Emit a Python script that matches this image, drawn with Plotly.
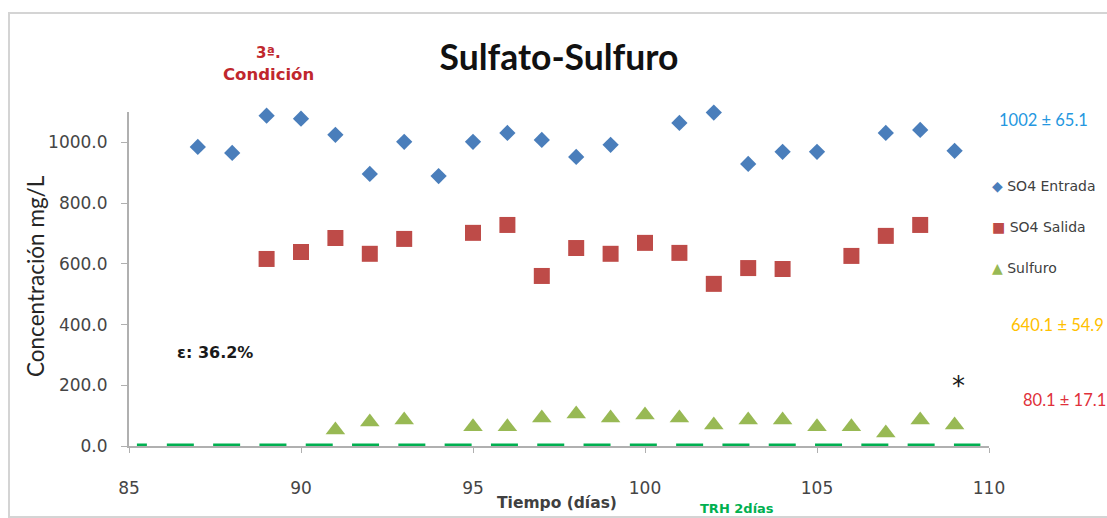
import plotly.graph_objects as go

# ---- data ----
dias_entrada = [87, 88, 89, 90, 91, 92, 93, 94, 95, 96, 97, 98, 99, 101, 102, 103, 104, 105, 107, 108, 109]
so4_entrada = [985, 965, 1088, 1078, 1025, 896, 1002, 889, 1002, 1031, 1008, 952, 992, 1064, 1098, 929, 969, 969, 1031, 1041, 972]

dias_salida = [89, 90, 91, 92, 93, 95, 96, 97, 98, 99, 100, 101, 102, 103, 104, 106, 107, 108]
so4_salida = [616, 639, 685, 633, 682, 702, 728, 560, 652, 633, 669, 636, 534, 586, 583, 626, 692, 728]

dias_sulfuro = [91, 92, 93, 95, 96, 97, 98, 99, 100, 101, 102, 103, 104, 105, 106, 107, 108, 109]
sulfuro = [53, 79, 86, 63, 63, 92, 105, 92, 102, 92, 69, 86, 86, 63, 63, 43, 86, 69]

trh_x_a = [85.23, 85.52]
trh_x_b = [86.1, 109.75]
trh_y = [0, 0]

x_ticks = [85, 90, 95, 100, 105, 110]
y_ticks = [0, 200, 400, 600, 800, 1000]

W, H = 1107, 518
L, R, T, B = 129, 118, 112, 72
pw, ph = W - L - R, H - T - B

def px(x):
    return (x - L) / pw

def py(y):
    return (H - B - y) / ph

blue = "#4a7ebb"
red = "#be4b48"
green = "#98b954"
axis_gray = "#b0b0b0"

fig = go.Figure()
fig.add_trace(go.Scatter(x=trh_x_a, y=trh_y, mode="lines", cliponaxis=False,
                         line=dict(color="#00b050", width=5), showlegend=False, hoverinfo="skip"))
fig.add_trace(go.Scatter(x=trh_x_b, y=trh_y, mode="lines", cliponaxis=False,
                         line=dict(color="#00b050", width=5, dash="27px,19.3px"), showlegend=False, hoverinfo="skip"))
fig.add_trace(go.Scatter(x=dias_entrada, y=so4_entrada, mode="markers", name="SO4 Entrada",
                         marker=dict(symbol="diamond", size=12.5, color=blue), showlegend=False, cliponaxis=False))
fig.add_trace(go.Scatter(x=dias_salida, y=so4_salida, mode="markers", name="SO4 Salida",
                         marker=dict(symbol="square", size=16, color=red), showlegend=False, cliponaxis=False))
fig.add_trace(go.Scatter(x=dias_sulfuro, y=sulfuro, mode="markers", name="Sulfuro",
                         marker=dict(symbol="triangle-up", size=17, color=green), showlegend=False, cliponaxis=False))

ann = []
def A(text, x, y, size, color, family="DejaVu Sans", xanchor="center", yanchor="middle", **kw):
    ann.append(dict(text=text, x=px(x), y=py(y), xref="paper", yref="paper", showarrow=False,
                    xanchor=xanchor, yanchor=yanchor, font=dict(size=size, color=color, family=family), **kw))

A("<b>3ª.</b>", 268, 53, 15, "#c0272d")
A("<b>Condición</b>", 268, 74, 16.5, "#c0272d")
A("<b>ε: 36.2%</b>", 215, 352, 16, "#1a1a1a")
A("*", 958, 386, 26, "#1a1a1a")
A("1002 ± 65.1", 997, 120, 16.5, "#2597e0", family="Lato", xanchor="left")
A("640.1 ± 54.9", 1009, 325, 16.5, "#ffc000", family="Lato", xanchor="left")
A("80.1 ± 17.1", 1021, 400, 16.5, "#e0303a", family="Lato", xanchor="left")
A("<b>Tiempo (días)</b>", 557, 503, 15.5, "#404040")
A("<b>TRH 2días</b>", 698, 518, 13, "#00b050", xanchor="left", yanchor="bottom")
A("Concentración mg/L", 35, 276, 22.5, "#262626", family="Lato", textangle=-90)
# legend
A(f"<span style='color:{blue}'>◆</span> SO4 Entrada", 990, 186, 14, "#404040", xanchor="left")
A(f"<span style='color:{red}'>■</span> SO4 Salida", 990, 227, 14, "#404040", xanchor="left")
A(f"<span style='color:{green}'>▲</span> Sulfuro", 990, 268, 14, "#404040", xanchor="left")

fig.update_layout(
    width=W, height=H,
    margin=dict(l=L, r=R, t=T, b=B, pad=0),
    paper_bgcolor="white", plot_bgcolor="white",
    title=dict(text="<b>Sulfato-Sulfuro</b>", x=0.5, xref="paper", xanchor="center",
               y=1 - 58 / H, yref="container", yanchor="middle",
               font=dict(family="Lato", size=35.5, color="#111111")),
    annotations=ann,
    shapes=[dict(type="rect", xref="paper", yref="paper",
                 x0=px(9), x1=px(1115), y0=py(517), y1=py(13),
                 line=dict(color="#d4d4d4", width=2), fillcolor="rgba(0,0,0,0)", layer="below")],
    xaxis=dict(range=[85, 110], tickvals=x_ticks, ticktext=[str(v) for v in x_ticks],
               showgrid=False, zeroline=False, showline=True, linecolor=axis_gray, linewidth=2,
               ticks="outside", ticklen=26, tickcolor="rgba(0,0,0,0)", tickwidth=1,
               minor=dict(tickvals=x_ticks, ticks="outside", ticklen=5, tickcolor=axis_gray, tickwidth=1),
               tickfont=dict(family="DejaVu Sans", size=17, color="#454545"),
               layer="below traces"),
    yaxis=dict(range=[0, 1100], tickvals=y_ticks, ticktext=[f"{v:.1f}" for v in y_ticks],
               showgrid=False, zeroline=False, showline=True, linecolor=axis_gray, linewidth=2,
               ticks="outside", ticklen=6, tickcolor=axis_gray, tickwidth=1,
               tickfont=dict(family="DejaVu Sans", size=17, color="#454545"),
               ticklabelstandoff=10, layer="below traces"),
)

fig.write_html("out.html")
